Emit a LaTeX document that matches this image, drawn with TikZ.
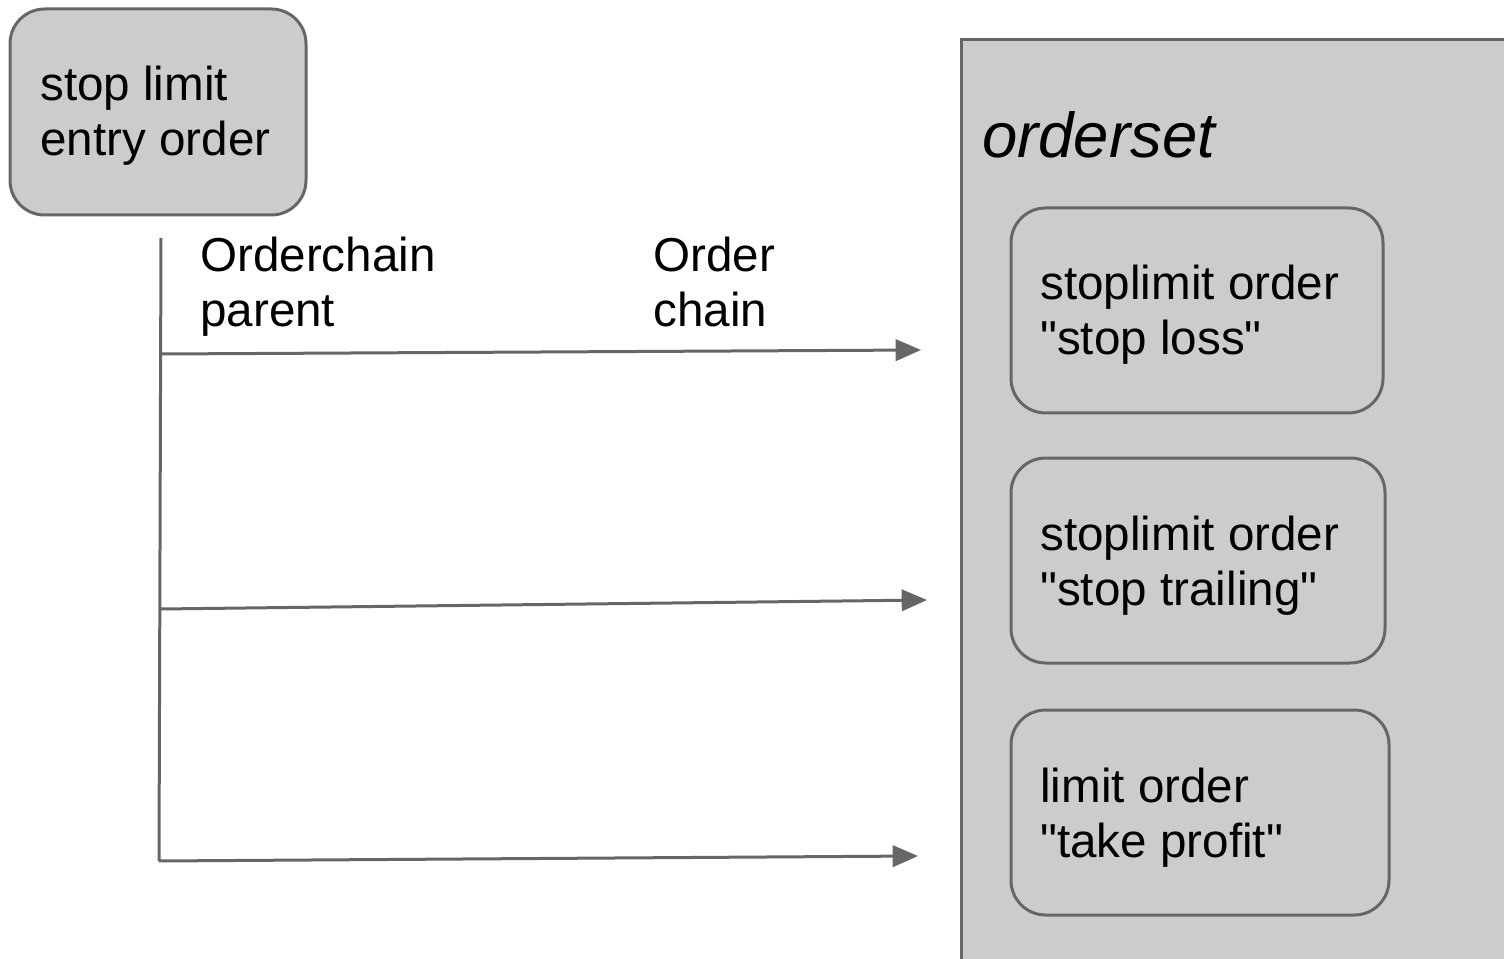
\documentclass[tikz,border=0pt]{standalone}
\usepackage{fontspec}
\setmainfont{Liberation Sans}[Ligatures=TeXOff]
\usetikzlibrary{arrows.meta}
\definecolor{boxfill}{HTML}{CCCCCC}
\definecolor{lineg}{HTML}{666666}
\begin{document}
\begin{tikzpicture}[x=0.75pt,y=-0.75pt,
  gbox/.style={draw=lineg,fill=boxfill,line width=2.25pt,rounded corners=26pt,inner sep=0pt},
  txt/.style={inner sep=0pt,anchor=base west,align=left,font=\fontsize{35.7pt}{41.25pt}\selectfont},
  conn/.style={draw=lineg,line width=2.25pt},
  arr/.style={conn,-{Triangle[length=19pt,width=16pt]}}]
\clip (0,0) rectangle (1504,959);
\fill[white] (0,0) rectangle (1504,959);
% big container
\node[draw=lineg,fill=boxfill,line width=2.25pt,inner sep=0pt,minimum width=449.25pt,minimum height=727.5pt] (set) at (1260.5,525) {};
\node[inner sep=0pt,anchor=base west,font=\fontsize{47.6pt}{55pt}\selectfont\itshape] (setlbl) at (982,158) {orderset};
% entry box
\node[gbox,minimum width=222pt,minimum height=154.5pt] (entry) at (158,112) {};
\node[txt] (entrytxt) at (40,156) {stop limit\\entry order};
% order boxes
\node[gbox,minimum width=279pt,minimum height=153.75pt] (sl) at (1197,310.5) {};
\node[txt] (sltxt) at (1040,355) {stoplimit order\\"stop loss"};
\node[gbox,minimum width=280.5pt,minimum height=153.75pt] (st) at (1198,560.5) {};
\node[txt] (sttxt) at (1040,605) {stoplimit order\\"stop trailing"};
\node[gbox,minimum width=283.5pt,minimum height=153.75pt] (tp) at (1200,812.5) {};
\node[txt] (tptxt) at (1040,857) {limit order\\"take profit"};
% labels
\node[txt] (lblparent) at (200,327) {Orderchain\\parent};
\node[txt] (lblchain) at (653,327) {Order\\chain};
% connectors
\coordinate (vtop) at (161,238);
\coordinate (v1) at (161,354);
\coordinate (v2) at (160.5,609);
\coordinate (v3) at (159,861);
\coordinate (a1) at (921,350);
\coordinate (a2) at (927,600);
\coordinate (a3) at (918,856);
\draw[conn] (vtop) -- (v3);
\draw[arr] (v1) -- (a1);
\draw[arr] (v2) -- (a2);
\draw[arr] (v3) -- (a3);
\end{tikzpicture}
\end{document}
